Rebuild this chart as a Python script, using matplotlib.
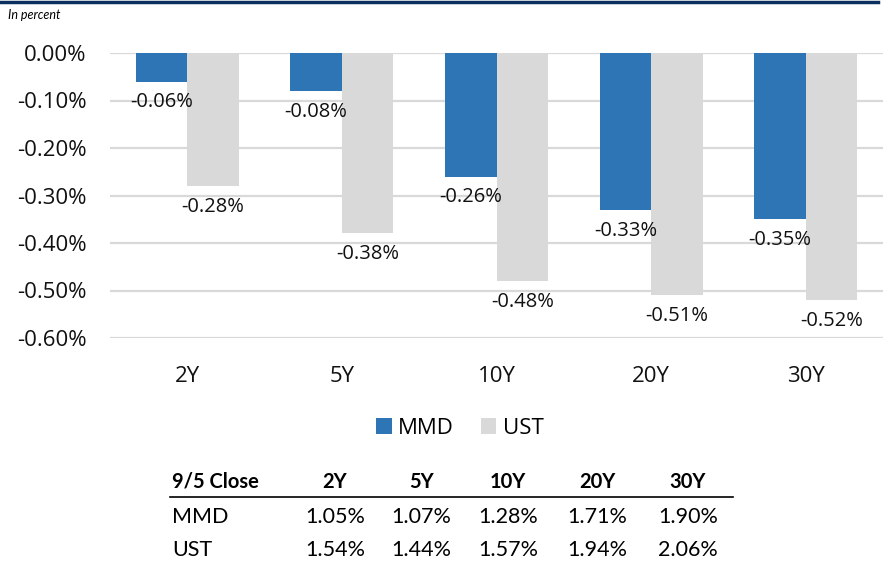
import matplotlib.pyplot as plt
import numpy as np
from matplotlib.lines import Line2D

# datos del grafico
tenors = ['2Y', '5Y', '10Y', '20Y', '30Y']
mmd_chg = [-0.06, -0.08, -0.26, -0.33, -0.35]
ust_chg = [-0.28, -0.38, -0.48, -0.51, -0.52]

# tabla de cierre 9/5
mmd_close = ['1.05%', '1.07%', '1.28%', '1.71%', '1.90%']
ust_close = ['1.54%', '1.44%', '1.57%', '1.94%', '2.06%']

blue = '#2E75B6'
grey = '#D9D9D9'
navy = '#0B2F5E'

W, H = 890, 561
fig = plt.figure(figsize=(W / 100, H / 100), dpi=100)
ax = fig.add_axes([110 / W, 1 - 338 / H, (883 - 110) / W, (338 - 53) / H])

x = np.arange(len(tenors))
w = 0.333
b1 = ax.bar(x - w / 2, mmd_chg, w, color=blue, label='MMD', zorder=3)
b2 = ax.bar(x + w / 2, ust_chg, w, color=grey, label='UST', zorder=3)

# etiquetas de datos debajo de cada barra
for bars, vals in [(b1, mmd_chg), (b2, ust_chg)]:
    for r, v in zip(bars, vals):
        ax.annotate(f'{v:.2f}%', (r.get_x() + r.get_width() / 2, v),
                    xytext=(0, -15), textcoords='offset points',
                    ha='center', va='center', fontsize=14.5,
                    family='Open Sans', color='#111111', zorder=4)

ax.set_xlim(-0.5, len(tenors) - 0.5)
ax.set_ylim(-0.6, 0)
yt = np.arange(0, -0.61, -0.1)
ax.set_yticks(yt)
ax.set_yticklabels([f'{t:.2f}%' if abs(t) > 1e-9 else '0.00%' for t in yt],
                   family='Open Sans', fontsize=16, color='#111111')
ax.set_xticks(x)
ax.set_xticklabels(tenors, family='Open Sans', fontsize=16, color='#111111')
ax.tick_params(axis='y', length=0, pad=17)
ax.tick_params(axis='x', length=0, pad=20)
ax.yaxis.grid(True, color=grey, linewidth=1.6, zorder=0)
ax.set_axisbelow(True)
for s in ax.spines.values():
    s.set_visible(False)

fig.legend(handles=[b1, b2], loc='center', bbox_to_anchor=(460 / W, 1 - 428 / H),
           ncol=2, frameon=False, handlelength=0.7, handleheight=0.7,
           handletextpad=0.3, columnspacing=1.2,
           prop={'family': 'Open Sans', 'size': 16})

# linea superior y subtitulo
fig.add_artist(Line2D([0, 878 / W], [1 - 1.5 / H, 1 - 1.5 / H], color=navy, linewidth=2.5))
fig.text(8 / W, 1 - 15 / H, 'In percent', style='italic', family='Lato',
         fontsize=9, va='center', ha='left')

# tabla
col_x = [335, 421, 508, 597, 688]
def fy(p):
    return 1 - p / H

fig.text(172 / W, fy(482), '9/5 Close', family='Lato', weight='bold',
         fontsize=14.5, va='center', ha='left')
for cx, t in zip(col_x, tenors):
    fig.text(cx / W, fy(482), t, family='Lato', weight='bold', fontsize=14.5,
             va='center', ha='center')
fig.add_artist(Line2D([170 / W, 733 / W], [fy(497), fy(497)], color='black', linewidth=1.2))
for row_y, name, vals in [(517, 'MMD', mmd_close), (550, 'UST', ust_close)]:
    fig.text(172 / W, fy(row_y), name, family='Lato', fontsize=15.5, va='center', ha='left')
    for cx, v in zip(col_x, vals):
        fig.text(cx / W, fy(row_y), v, family='Lato', fontsize=15.5, va='center', ha='center')

fig.savefig('out.png', dpi=100)
